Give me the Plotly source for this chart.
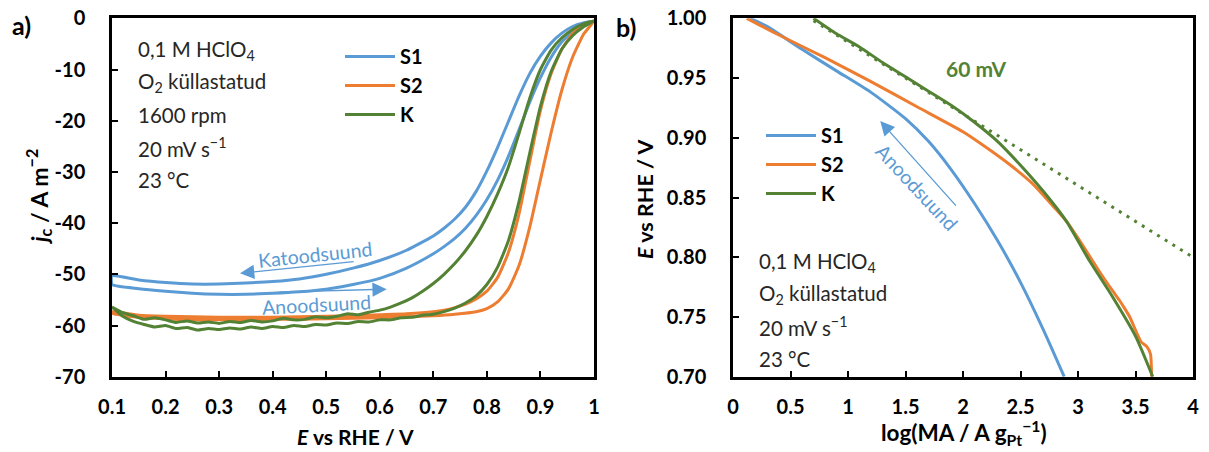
import plotly.graph_objects as go

# ---------------- Panel a) : polarisation curves (cathodic scan 1.0 -> 0.1 V, anodic scan 0.1 -> 1.0 V)
E_S1_cat = [1.00, 0.98, 0.96, 0.94, 0.92, 0.90, 0.88, 0.86, 0.84, 0.82, 0.80, 0.78, 0.76, 0.74, 0.72, 0.70,
            0.65, 0.60, 0.55, 0.50, 0.45, 0.40, 0.35, 0.30, 0.25, 0.20, 0.15, 0.10]
j_S1_cat = [-0.5, -0.9, -1.6, -2.9, -4.8, -7.4, -10.8, -15.2, -20.2, -25.2, -29.8, -33.8, -36.9, -39.2, -41.0, -42.5,
            -45.3, -47.3, -48.8, -50.0, -50.9, -51.4, -51.7, -51.9, -51.9, -51.6, -51.1, -50.3]
E_S1_an = [0.10, 0.15, 0.20, 0.25, 0.30, 0.35, 0.40, 0.45, 0.50, 0.55, 0.60, 0.65, 0.70, 0.72, 0.74, 0.76,
           0.78, 0.80, 0.82, 0.84, 0.86, 0.88, 0.90, 0.92, 0.94, 0.96, 0.98, 1.00]
j_S1_an = [-52.0, -52.8, -53.3, -53.7, -53.9, -53.9, -53.7, -53.4, -52.9, -52.0, -50.8, -48.8, -46.0, -44.6, -43.0, -41.0,
           -38.5, -35.4, -31.6, -27.0, -21.8, -16.4, -11.6, -7.6, -4.6, -2.6, -1.3, -0.5]

E_S2_cat = [1.00, 0.98, 0.96, 0.94, 0.92, 0.90, 0.88, 0.86, 0.84, 0.82, 0.80, 0.78, 0.76, 0.74, 0.72, 0.70,
            0.65, 0.60, 0.55, 0.50, 0.45, 0.40, 0.35, 0.30, 0.25, 0.20, 0.15, 0.10]
j_S2_cat = [-0.5, -1.4, -3.0, -6.0, -10.8, -18.0, -28.0, -38.2, -45.8, -50.6, -53.3, -54.8, -55.8, -56.5, -57.0, -57.3,
            -57.7, -57.9, -58.1, -58.2, -58.3, -58.4, -58.4, -58.4, -58.3, -58.2, -58.0, -57.3]
E_S2_an = [0.10, 0.15, 0.20, 0.25, 0.30, 0.35, 0.40, 0.45, 0.50, 0.55, 0.60, 0.65, 0.70, 0.74, 0.78, 0.80,
           0.82, 0.84, 0.86, 0.88, 0.90, 0.92, 0.94, 0.96, 0.98, 1.00]
j_S2_an = [-57.6, -58.4, -58.7, -58.9, -58.9, -58.9, -58.8, -58.8, -58.7, -58.6, -58.5, -58.3, -58.1, -57.8, -57.3, -56.7,
           -55.4, -52.9, -48.3, -40.8, -31.5, -22.3, -14.0, -7.6, -3.2, -0.5]

E_K_cat = [1.00, 0.98, 0.96, 0.94, 0.92, 0.90, 0.88, 0.86, 0.84, 0.82, 0.80, 0.78, 0.76, 0.74, 0.72, 0.70,
           0.68, 0.66, 0.64, 0.62, 0.60, 0.58, 0.56, 0.54, 0.52, 0.50, 0.48, 0.46, 0.44, 0.42, 0.40, 0.38,
           0.36, 0.34, 0.32, 0.30, 0.28, 0.26, 0.24, 0.22, 0.20, 0.18, 0.16, 0.14, 0.12, 0.10]
j_K_cat = [-0.5, -1.1, -2.2, -3.8, -6.2, -10.0, -15.6, -22.5, -29.1, -34.3, -38.7, -42.4, -45.4, -47.9, -50.0, -51.8,
           -53.3, -54.6, -55.6, -56.4, -57.0, -57.4, -57.9, -57.7, -58.2, -58.5, -58.3, -58.8, -58.9, -58.6, -59.1, -59.3,
           -59.0, -59.4, -59.2, -59.6, -59.3, -59.5, -59.1, -59.4, -58.9, -58.5, -58.8, -58.1, -57.5, -56.4]
E_K_an = [0.10, 0.12, 0.14, 0.16, 0.18, 0.20, 0.22, 0.24, 0.26, 0.28, 0.30, 0.32, 0.34, 0.36, 0.38, 0.40,
          0.42, 0.44, 0.46, 0.48, 0.50, 0.52, 0.54, 0.56, 0.58, 0.60, 0.62, 0.64, 0.66, 0.68, 0.70, 0.72,
          0.74, 0.76, 0.78, 0.80, 0.82, 0.84, 0.86, 0.88, 0.90, 0.92, 0.94, 0.96, 0.98, 1.00]
j_K_an = [-56.4, -58.2, -59.2, -59.8, -60.3, -60.0, -60.6, -60.4, -60.9, -60.6, -60.8, -60.5, -60.7, -60.3, -60.6, -60.2,
          -60.4, -60.0, -60.2, -59.8, -59.9, -59.5, -59.6, -59.2, -59.3, -58.9, -58.9, -58.5, -58.4, -58.0, -57.8, -57.3,
          -56.6, -55.6, -54.2, -52.0, -48.6, -43.5, -35.8, -26.3, -17.2, -10.4, -6.0, -3.4, -1.7, -0.5]

# ---------------- Panel b) : Tafel plots
logMA_S1 = [0.15, 0.30, 0.60, 0.90, 1.20, 1.50, 1.70, 1.90, 2.10, 2.30, 2.50, 2.70, 2.88]
E_T_S1 = [1.000, 0.993, 0.974, 0.956, 0.938, 0.916, 0.897, 0.873, 0.845, 0.814, 0.779, 0.739, 0.700]

logMA_S2 = [0.12, 0.40, 0.80, 1.20, 1.60, 2.00, 2.20, 2.40, 2.60, 2.80, 2.90, 3.00, 3.10, 3.20, 3.30,
            3.36, 3.40, 3.45, 3.50, 3.55, 3.60, 3.63, 3.64]
E_T_S2 = [1.000, 0.986, 0.967, 0.947, 0.926, 0.905, 0.892, 0.878, 0.862, 0.841, 0.830, 0.816, 0.801, 0.786, 0.772,
          0.764, 0.758, 0.750, 0.739, 0.729, 0.725, 0.719, 0.700]

logMA_K = [0.70, 0.90, 1.10, 1.30, 1.50, 1.70, 1.90, 2.10, 2.30, 2.50, 2.70, 2.90, 3.10, 3.30, 3.50, 3.65]
E_T_K = [1.000, 0.987, 0.976, 0.963, 0.951, 0.939, 0.927, 0.913, 0.897, 0.877, 0.855, 0.830, 0.797, 0.767, 0.734, 0.700]

logMA_tafel = [0.70, 4.00]
E_tafel = [0.998, 0.800]

# ticks
E_TICKS_A = [0.1, 0.2, 0.3, 0.4, 0.5, 0.6, 0.7, 0.8, 0.9, 1.0]
J_TICKS = [0, -10, -20, -30, -40, -50, -60, -70]
LOG_TICKS = [0, 0.5, 1, 1.5, 2, 2.5, 3, 3.5, 4]
E_TICKS_B = [0.70, 0.75, 0.80, 0.85, 0.90, 0.95, 1.00]

BLUE = '#5B9BD5'
ORANGE = '#ED7D31'
GREEN = '#548235'
FONT = 'Lato'
W, H = 1209, 452

def px_x(p):
    return p / W

def px_y(p):
    return 1 - p / H

fig = go.Figure()

for name, Ec, jc, Ea, ja, col in [('S1', E_S1_cat, j_S1_cat, E_S1_an, j_S1_an, BLUE),
                                  ('S2', E_S2_cat, j_S2_cat, E_S2_an, j_S2_an, ORANGE),
                                  ('K', E_K_cat, j_K_cat, E_K_an, j_K_an, GREEN)]:
    fig.add_trace(go.Scatter(x=Ec + Ea, y=jc + ja, mode='lines', name=name,
                             line=dict(color=col, width=3, shape='spline', smoothing=0.5),
                             xaxis='x', yaxis='y', legend='legend', legendgroup='a' + name))

fig.add_trace(go.Scatter(x=logMA_tafel, y=E_tafel, mode='lines', showlegend=False,
                         line=dict(color=GREEN, width=3, dash='3px,6px'), xaxis='x2', yaxis='y2'))
for name, xs, ys, col in [('S1', logMA_S1, E_T_S1, BLUE), ('S2', logMA_S2, E_T_S2, ORANGE),
                          ('K', logMA_K, E_T_K, GREEN)]:
    fig.add_trace(go.Scatter(x=xs, y=ys, mode='lines', name=name,
                             line=dict(color=col, width=3, shape='spline', smoothing=0.6),
                             xaxis='x2', yaxis='y2', legend='legend2', legendgroup='b' + name))

tickfont = dict(family=FONT, size=20, color='black', weight='bold')
axcommon = dict(showgrid=False, zeroline=False, showline=True, linecolor='black', linewidth=2.5,
                mirror=True, ticks='inside', ticklen=6, tickwidth=2, tickcolor='black', tickfont=tickfont,
                automargin=False)

ydom = [px_y(376.7), px_y(18.3)]
legfont = dict(family=FONT, size=20, color='black', weight='bold')
fig.update_layout(
    width=W, height=H, margin=dict(l=0, r=0, t=0, b=0, pad=0, autoexpand=False),
    paper_bgcolor='white', plot_bgcolor='white',
    xaxis=dict(domain=[px_x(112), px_x(594)], range=[0.1, 1.0], tickvals=E_TICKS_A,
               ticktext=[f'{v:g}' for v in E_TICKS_A], anchor='y', ticklabelstandoff=11, **axcommon),
    yaxis=dict(domain=ydom, range=[-70, 0], tickvals=J_TICKS, ticktext=[str(v) for v in J_TICKS],
               anchor='x', ticklabelstandoff=20, **axcommon),
    xaxis2=dict(domain=[px_x(733), px_x(1193)], range=[0, 4], tickvals=LOG_TICKS,
                ticktext=[f'{v:g}' for v in LOG_TICKS], anchor='y2', ticklabelstandoff=11, **axcommon),
    yaxis2=dict(domain=ydom, range=[0.70, 1.00], tickvals=E_TICKS_B,
                ticktext=[f'{v:.2f}' for v in E_TICKS_B], anchor='x2', ticklabelstandoff=20, **axcommon),
    legend=dict(x=px_x(340), y=px_y(37), xanchor='left', yanchor='top', bgcolor='rgba(0,0,0,0)',
                font=legfont, itemwidth=50, tracegroupgap=0),
    legend2=dict(x=px_x(761), y=px_y(116), xanchor='left', yanchor='top', bgcolor='rgba(0,0,0,0)',
                 font=legfont, itemwidth=50, tracegroupgap=0),
    showlegend=True,
)

ann = []
def txt(x, y, s, size=20.5, color='#262626', bold=False, xanchor='left', angle=0, xref='paper', yref='paper'):
    ann.append(dict(x=x, y=y, xref=xref, yref=yref, text=s, showarrow=False, xanchor=xanchor, yanchor='middle',
                    textangle=angle,
                    font=dict(family=FONT, size=size, color=color, weight='bold' if bold else 'normal')))

# panel labels
txt(px_x(10), px_y(25), 'a)', size=25, color='black', bold=True)
txt(px_x(614), px_y(27), 'b)', size=25, color='black', bold=True)

# info texts
info_a = ['0,1 M HClO<sub>4</sub>', 'O<sub>2</sub> küllastatud', '1600 rpm', '20 mV s<sup>−1</sup>', '23 °C']
for i, s in enumerate(info_a):
    txt(px_x(136), px_y(50 + 32.5 * i), s)
info_b = ['0,1 M HClO<sub>4</sub>', 'O<sub>2</sub> küllastatud', '20 mV s<sup>−1</sup>', '23 °C']
for i, s in enumerate(info_b):
    txt(px_x(757), px_y(262 + 32.3 * i), s)

# axis titles
txt(px_x(38), px_y(197), '<b><i>j</i><sub>c</sub> / A m<sup>−2</sup></b>', size=23, color='black',
    xanchor='center', angle=-90)
txt(px_x(355), px_y(436), '<b><i>E</i> vs RHE / V</b>', size=21, color='black', xanchor='center')
txt(px_x(645), px_y(199), '<b><i>E</i> vs RHE / V</b>', size=21.5, color='black', xanchor='center', angle=-90)
txt(px_x(964), px_y(432), '<b>log(MA / A g<sub>Pt</sub><sup>−1</sup>)</b>', size=22.5, color='black',
    xanchor='center')

# 60 mV
txt(2.12, 0.958, '60 mV', size=21, color=GREEN, bold=True, xanchor='center', xref='x2', yref='y2')

# scan direction labels
txt(0.479, -46.2, 'Katoodsuund', size=19.5, color=BLUE, xanchor='center', angle=-6, xref='x', yref='y')
txt(0.481, -55.9, 'Anoodsuund', size=19.5, color=BLUE, xanchor='center', angle=-3, xref='x', yref='y')
txt(1.60, 0.858, 'Anoodsuund', size=19.5, color=BLUE, xanchor='center', angle=47, xref='x2', yref='y2')

def arrow(x, y, ax, ay, xref, yref):
    ann.append(dict(x=x, y=y, ax=ax, ay=ay, xref=xref, yref=yref, axref=xref, ayref=yref, text='',
                    showarrow=True, arrowhead=2, arrowsize=2.2, arrowwidth=1.3, arrowcolor=BLUE,
                    standoff=0, startstandoff=0))

arrow(0.339, -49.8, 0.554, -47.5, 'x', 'y')
arrow(0.613, -52.9, 0.410, -53.5, 'x', 'y')
arrow(1.28, 0.914, 1.95, 0.842, 'x2', 'y2')

fig.update_layout(annotations=ann)
fig.write_html('out.html')
